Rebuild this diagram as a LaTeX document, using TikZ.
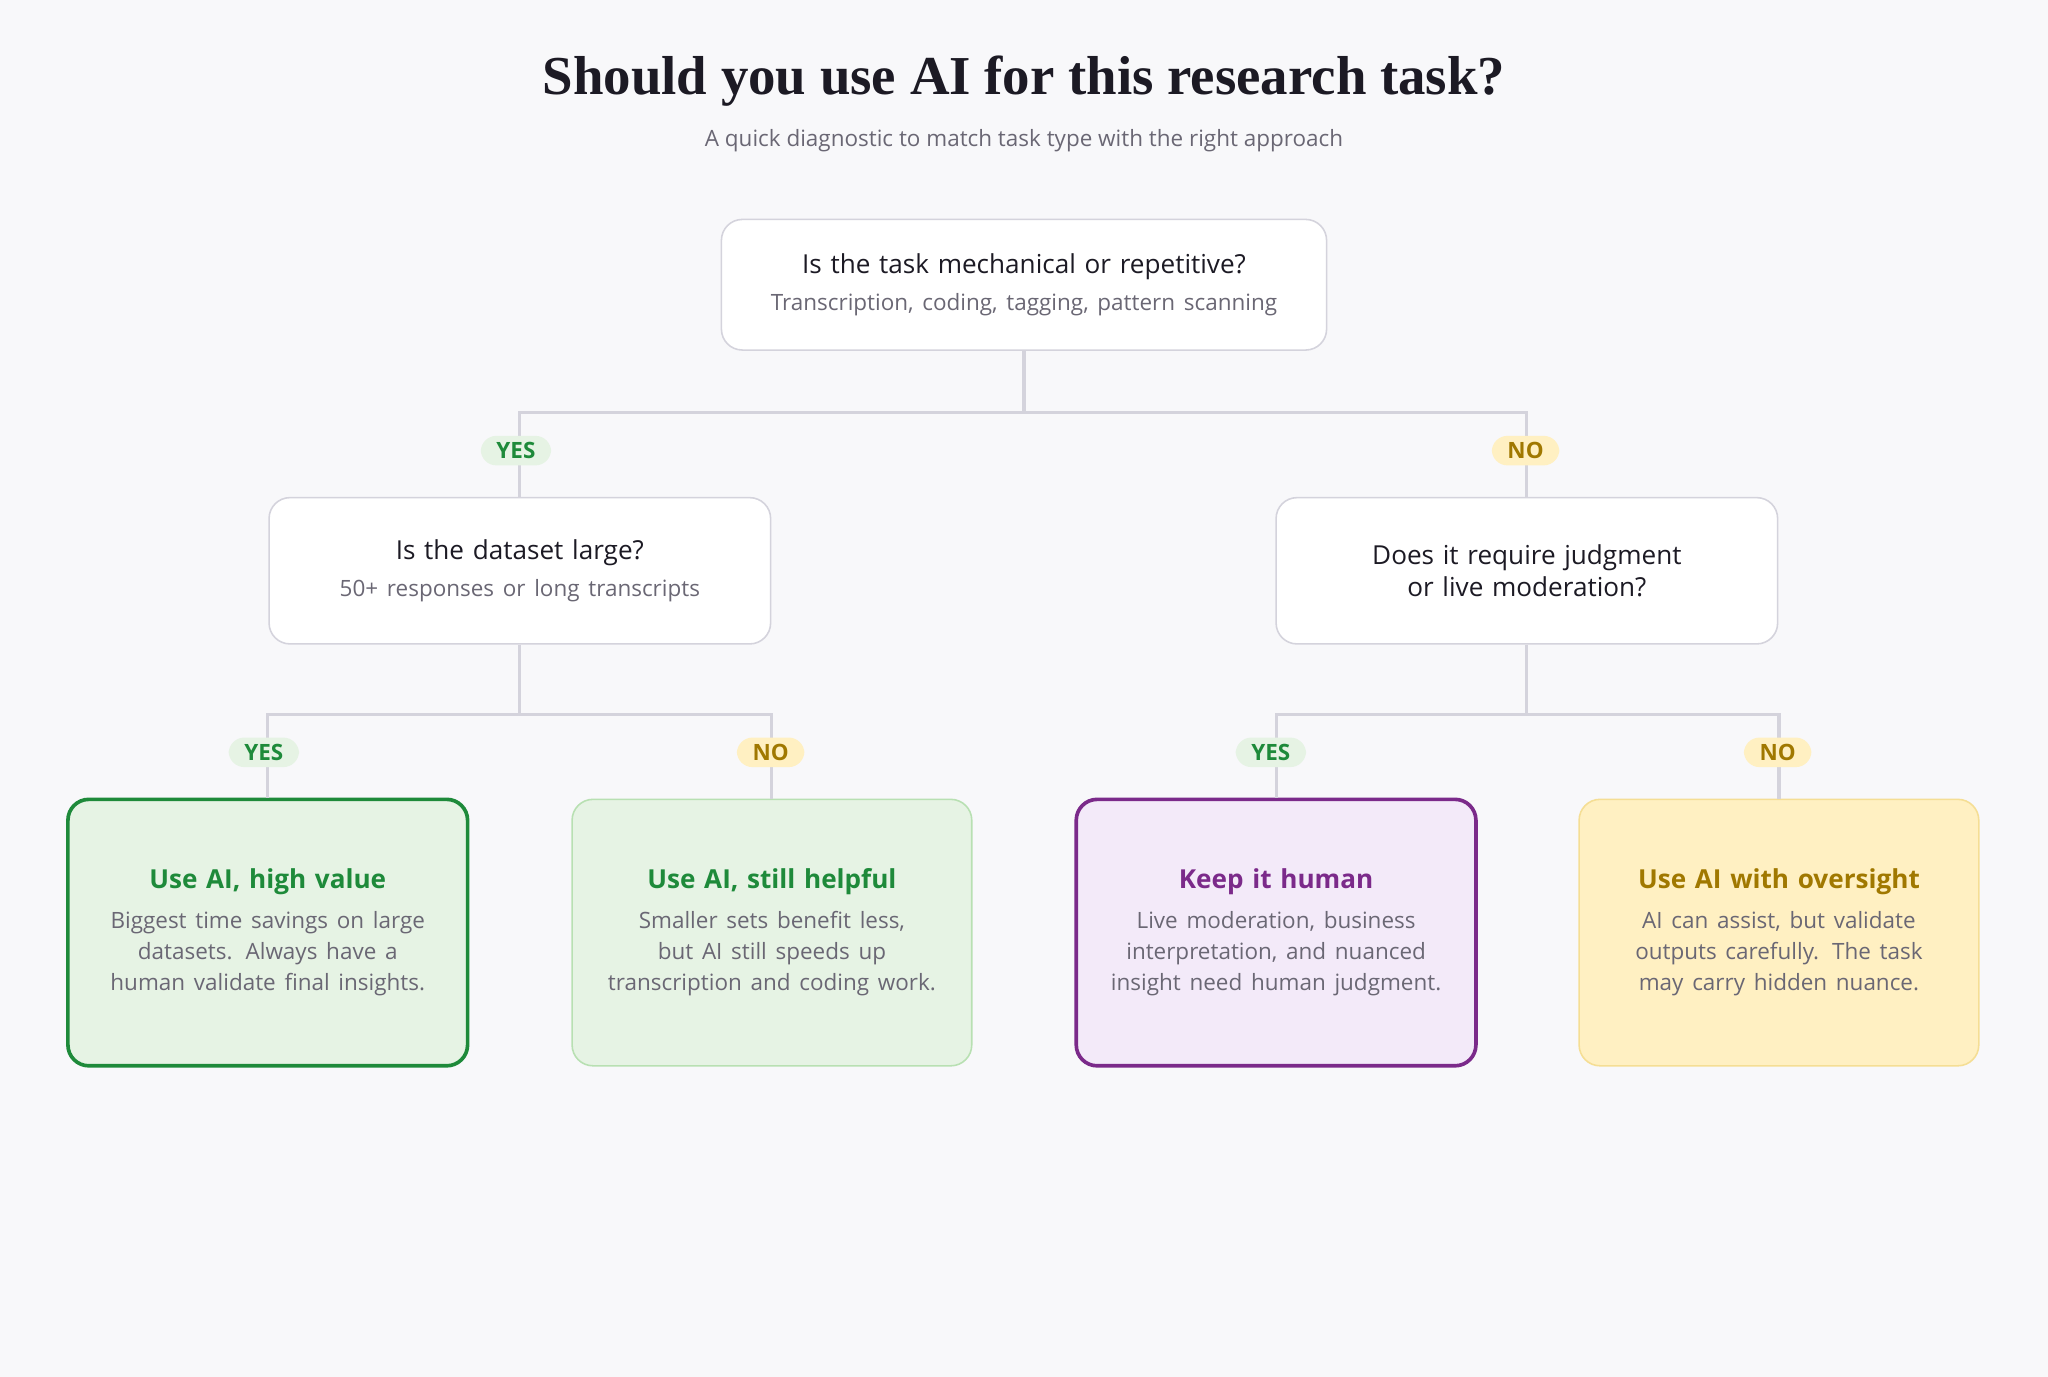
\documentclass[tikz,border=0pt]{standalone}
\usepackage{fontspec}
\setmainfont{Open Sans}
\newfontfamily\headfont{Liberation Serif}
\usetikzlibrary{positioning}
\hyphenpenalty=10000
\exhyphenpenalty=10000
\definecolor{bgcol}{HTML}{F8F8FA}
\definecolor{linecol}{HTML}{D4D3DC}
\definecolor{inkcol}{HTML}{1C1A24}
\definecolor{subcol}{HTML}{6A6774}
\definecolor{gooddark}{HTML}{1E8A3A}
\definecolor{goodfill}{HTML}{E6F3E4}
\definecolor{goodline}{HTML}{B8E0B2}
\definecolor{purpdark}{HTML}{7B2A8A}
\definecolor{purpfill}{HTML}{F3EAF9}
\definecolor{golddark}{HTML}{A07800}
\definecolor{goldfill}{HTML}{FFF0C2}
\definecolor{goldline}{HTML}{F5DE94}
\newcommand{\qtxt}[1]{{\fontsize{10}{13}\selectfont\color{inkcol}#1}}
\newcommand{\btxt}[1]{{\fontsize{8.6}{12}\selectfont\color{subcol}#1}}
\newcommand{\ltxt}[2]{{\fontsize{10}{13}\selectfont\bfseries\color{#1}#2}}
\tikzset{
    question/.style={draw=linecol, fill=white, rounded corners=8pt, line width=0.6pt,
        minimum width=192pt, minimum height=56pt, align=center, text width=170pt},
    leaf/.style={rounded corners=8pt, minimum width=153pt, minimum height=102pt,
        align=center, text width=136pt},
    wire/.style={linecol, line width=1.2pt},
    pill/.style={rounded corners=6pt, inner xsep=6pt, inner ysep=2.5pt, font=\fontsize{8.6}{10}\selectfont\bfseries},
    yespill/.style={pill, fill=goodfill, text=gooddark},
    nopill/.style={pill, fill=goldfill, text=golddark}
}
\begin{document}
\begin{tikzpicture}[x=0.5pt,y=-0.5pt]
    \fill[bgcol] (0,0) rectangle (1568,1054);
    \useasboundingbox (0,0) rectangle (1568,1054);
    % heading
    \node[font=\headfont\fontsize{21}{24}\selectfont\bfseries, text=inkcol] (title) at (784,62) {Should you use AI for this research task?};
    \node[font=\fontsize{8.6}{11}\selectfont, text=subcol] (subtitle) at (784,108) {A quick diagnostic to match task type with the right approach};
    % questions
    \node[question, minimum width=230pt, text width=225pt, minimum height=50pt] (root) at (784,218)
        {\qtxt{Is the task mechanical or repetitive?}\\[2pt]\btxt{Transcription, coding, tagging, pattern scanning}};
    \node[question] (large) at (398,437)
        {\qtxt{Is the dataset large?}\\[2pt]\btxt{50+ responses or long transcripts}};
    \node[question] (judge) at (1169,437)
        {\qtxt{Does it require judgment or live moderation?}};
    % outcomes
    \node[leaf, draw=gooddark, line width=1.4pt, fill=goodfill] (high) at (205,714)
        {\ltxt{gooddark}{Use AI, high value}\\[3pt]\btxt{Biggest time savings on large datasets. Always have a human validate final insights.}};
    \node[leaf, draw=goodline, line width=0.6pt, fill=goodfill] (helpful) at (591,714)
        {\ltxt{gooddark}{Use AI, still helpful}\\[3pt]\btxt{Smaller sets benefit less, but AI still speeds up transcription and coding work.}};
    \node[leaf, draw=purpdark, line width=1.4pt, fill=purpfill] (human) at (977,714)
        {\ltxt{purpdark}{Keep it human}\\[3pt]\btxt{Live moderation, business interpretation, and nuanced insight need human judgment.}};
    \node[leaf, draw=goldline, line width=0.6pt, fill=goldfill] (oversight) at (1362,714)
        {\ltxt{golddark}{Use AI with oversight}\\[3pt]\btxt{AI can assist, but validate outputs carefully. The task may carry hidden nuance.}};
    % connectors
    \coordinate (rootfork) at (784,316);
    \coordinate (largefork) at (398,547);
    \coordinate (judgefork) at (1169,547);
    \draw[wire] (root.south) -- (rootfork);
    \draw[wire] (rootfork) -| (large.north);
    \draw[wire] (rootfork) -| (judge.north);
    \draw[wire] (large.south) -- (largefork);
    \draw[wire] (largefork) -| (high.north);
    \draw[wire] (largefork) -| (helpful.north);
    \draw[wire] (judge.south) -- (judgefork);
    \draw[wire] (judgefork) -| (human.north);
    \draw[wire] (judgefork) -| (oversight.north);
    % answers
    \node[yespill] (yes1) at (395,345) {YES};
    \node[nopill] (no1) at (1168,345) {NO};
    \node[yespill] (yes2) at (202,576) {YES};
    \node[nopill] (no2) at (590,576) {NO};
    \node[yespill] (yes3) at (973,576) {YES};
    \node[nopill] (no3) at (1361,576) {NO};
\end{tikzpicture}
\end{document}
